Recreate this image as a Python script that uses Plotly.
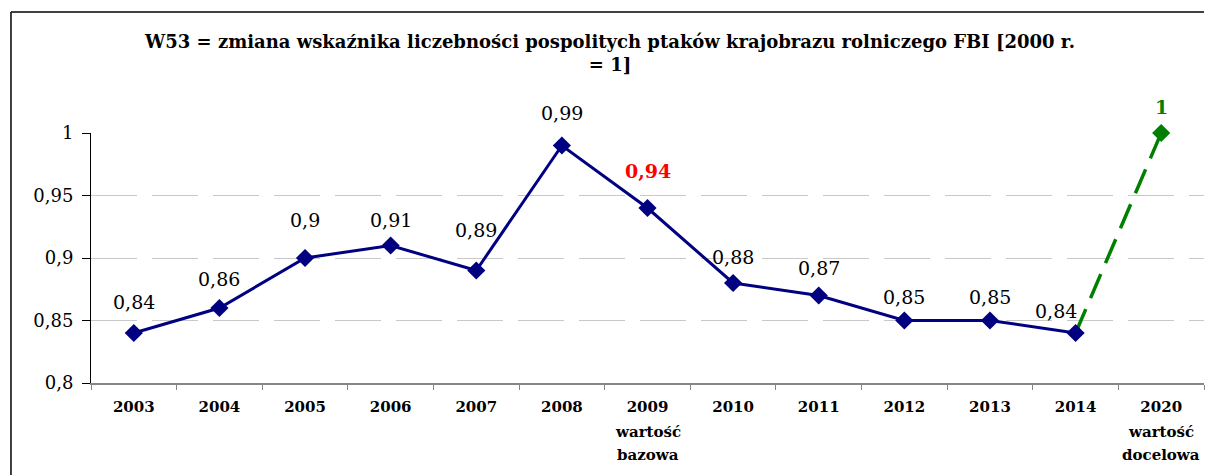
import plotly.graph_objects as go

categories = ["2003", "2004", "2005", "2006", "2007", "2008", "2009", "2010",
              "2011", "2012", "2013", "2014", "2020"]
tick_labels = ["2003", "2004", "2005", "2006", "2007", "2008", "2009", "2010",
               "2011", "2012", "2013", "2014", "2020"]
tick_sublabels = {"2009": ["wartość", "bazowa"], "2020": ["wartość", "docelowa"]}
fbi_values = [0.84, 0.86, 0.90, 0.91, 0.89, 0.99, 0.94, 0.88, 0.87, 0.85, 0.85, 0.84]
target_categories = ["2014", "2020"]
target_values = [0.84, 1.0]
label_texts = ["0,84", "0,86", "0,9", "0,91", "0,89", "0,99", "0,94", "0,88",
               "0,87", "0,85", "0,85", "0,84"]
target_label = "1"
y_ticks = [0.8, 0.85, 0.9, 0.95, 1.0]
y_tick_text = ["0,8", "0,85", "0,9", "0,95", "1"]

# label offsets (style)
label_yshift = [31, 29, 38, 26, 41, 33, 37, 26, 28, 24, 24, 22]
label_xshift = [0] * 11 + [-20]

SERIF = "DejaVu Serif"
NAVY = "#000080"
GREEN = "#008000"

fig = go.Figure()

fig.add_trace(go.Scatter(
    x=target_categories, y=target_values, mode="lines",
    line=dict(color=GREEN, width=3.5, dash="26px,12px"),
    hoverinfo="skip", showlegend=False, cliponaxis=False,
))
fig.add_trace(go.Scatter(
    x=categories[:len(fbi_values)], y=fbi_values, mode="lines+markers",
    line=dict(color=NAVY, width=3),
    marker=dict(symbol="diamond", size=14, color=NAVY),
    showlegend=False, cliponaxis=False,
))
fig.add_trace(go.Scatter(
    x=target_categories[1:], y=target_values[1:], mode="markers",
    marker=dict(symbol="diamond", size=14, color=GREEN),
    showlegend=False, cliponaxis=False,
))

for i, (v, t) in enumerate(zip(fbi_values, label_texts)):
    is_base = categories[i] == "2009"
    fig.add_annotation(
        x=i, y=v, text=f"<b>{t}</b>" if is_base else t, showarrow=False,
        yshift=label_yshift[i], xshift=label_xshift[i],
        font=dict(family=SERIF, size=19, color="#ff0000" if is_base else "#000000"),
    )
fig.add_annotation(
    x=categories.index(target_categories[1]), y=target_values[1],
    text=f"<b>{target_label}</b>", showarrow=False, yshift=26,
    font=dict(family=SERIF, size=19, color=GREEN),
)

# extra lines under some category labels
for cat, lines in tick_sublabels.items():
    for k, line in enumerate(lines):
        fig.add_annotation(
            x=categories.index(cat), xref="x", y=0, yref="paper",
            yanchor="middle", yshift=-49 - 23 * k, text=f"<b>{line}</b>",
            showarrow=False, font=dict(family=SERIF, size=15, color="#000000"),
        )

# outer chart border (left and top edges visible)
fig.add_shape(type="line", xref="paper", yref="paper",
              x0=-0.0719, x1=-0.0719, y0=-0.37, y1=1.484,
              line=dict(color="#000000", width=1.5), layer="below")
fig.add_shape(type="line", xref="paper", yref="paper",
              x0=-0.0719, x1=1.0, y0=1.484, y1=1.484,
              line=dict(color="#000000", width=1.5), layer="below")

fig.update_layout(
    width=1208, height=475,
    margin=dict(l=91, r=4, t=133, b=92),
    paper_bgcolor="white", plot_bgcolor="white",
    title=dict(
        text="<b>W53 = zmiana wskaźnika liczebności pospolitych ptaków krajobrazu rolniczego FBI [2000 r.<br>= 1]</b>",
        x=0.505, xanchor="center", y=0.9, yanchor="top",
        font=dict(family=SERIF, size=18, color="#000000"),
    ),
    xaxis=dict(
        type="category", categoryorder="array", categoryarray=categories,
        tickvals=categories, ticktext=tick_labels,
        tickson="boundaries", ticks="outside", ticklen=5, tickcolor="#868686",
        showline=True, linecolor="#868686", linewidth=1.5,
        showgrid=False, range=[-0.5, len(categories) - 0.5],
        ticklabelstandoff=9,
        tickfont=dict(family=SERIF, size=15, color="#000000", weight="bold"),
    ),
    yaxis=dict(
        range=[0.8, 1.0], tickvals=y_ticks, ticktext=y_tick_text,
        ticks="outside", ticklen=8, tickcolor="#000000",
        showline=True, linecolor="#000000", linewidth=1,
        showgrid=True, gridcolor="#c8c8c8", gridwidth=1.2, griddash="46px,15px",
        zeroline=False, ticklabelstandoff=5,
        tickfont=dict(family=SERIF, size=18, color="#000000"),
    ),
)

fig.write_html("out.html", config={"displayModeBar": False},
               post_script="document.body.style.margin='0';document.body.style.padding='0';")
